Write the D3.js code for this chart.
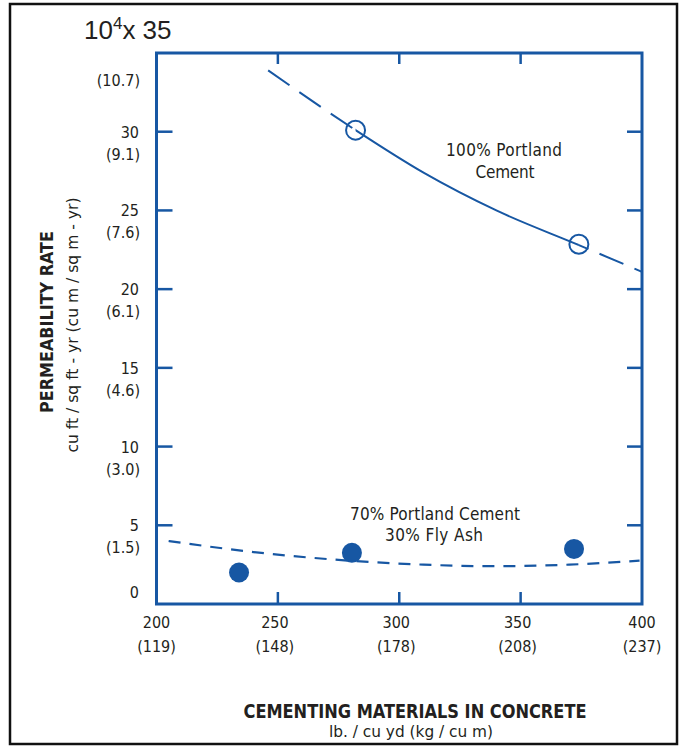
<!DOCTYPE html>
<html>
<head>
<meta charset="utf-8">
<script src="https://cdn.jsdelivr.net/npm/d3@7"></script>
<style>
  body { margin: 0; background: #fff; }
  svg { display: block; }
  text { fill: #231f20; }
</style>
</head>
<body>
<svg id="chart" width="681" height="747"></svg>
<script>
// values
const xTicks = [200, 250, 300, 350, 400];
const xTickMetric = ["(119)", "(148)", "(178)", "(208)", "(237)"];
const yTicks = [0, 5, 10, 15, 20, 25, 30];
const yTickMetric = ["", "(1.5)", "(3.0)", "(4.6)", "(6.1)", "(7.6)", "(9.1)"];

// 100% portland cement: fitted curve and measured points (open circles)
const portlandCurve = [[246, 33.9], [282, 30.1], [310, 27.4], [340, 25.0], [374, 22.8], [400, 21.1]];
const portlandPoints = [[282, 30.1], [374, 22.85]];
const portlandSolid = [282, 374]; // solid between the measured points, dashed outside

// 70% portland cement + 30% fly ash
const flyAshCurve = [[205, 4.0], [240, 3.3], [275, 2.8], [310, 2.5], [340, 2.4], [370, 2.5], [399, 2.75]];
const flyAshPoints = [[234, 2.0], [280.5, 3.25], [372, 3.5]];

const blue = "#1757a3";
const narrow = "'Liberation Sans Narrow', 'DejaVu Sans Condensed', 'Roboto', sans-serif";

const svg = d3.select("#chart");
const x = d3.scaleLinear().domain([200, 400]).range([156.5, 642]);
const y = d3.scaleLinear().domain([0, 35]).range([604, 53]);

// outer border
svg.append("rect")
    .attr("x", 10).attr("y", 4)
    .attr("width", 667).attr("height", 740)
    .attr("fill", "none")
    .attr("stroke", "#111")
    .attr("stroke-width", 2.5);

// clip paths for solid / dashed parts of the portland curve
const defs = svg.append("defs");
defs.append("clipPath").attr("id", "solidPart")
    .append("rect")
    .attr("x", x(portlandSolid[0])).attr("y", 0)
    .attr("width", x(portlandSolid[1]) - x(portlandSolid[0])).attr("height", 747);
const dashClip = defs.append("clipPath").attr("id", "dashPart");
dashClip.append("rect")
    .attr("x", 0).attr("y", 0)
    .attr("width", x(portlandSolid[0])).attr("height", 747);
dashClip.append("rect")
    .attr("x", x(portlandSolid[1])).attr("y", 0)
    .attr("width", 681 - x(portlandSolid[1])).attr("height", 747);

const line = d3.line()
    .x(d => x(d[0]))
    .y(d => y(d[1]))
    .curve(d3.curveMonotoneX);

// curves
svg.append("path")
    .datum(portlandCurve)
    .attr("d", line)
    .attr("fill", "none")
    .attr("stroke", blue)
    .attr("stroke-width", 2)
    .attr("clip-path", "url(#solidPart)");

svg.append("path")
    .datum(portlandCurve)
    .attr("d", line)
    .attr("fill", "none")
    .attr("stroke", blue)
    .attr("stroke-width", 2)
    .attr("stroke-dasharray", "26,12")
    .attr("clip-path", "url(#dashPart)");

svg.append("path")
    .datum(flyAshCurve)
    .attr("d", line)
    .attr("fill", "none")
    .attr("stroke", blue)
    .attr("stroke-width", 2.2)
    .attr("stroke-dasharray", "12,9");

// markers
svg.append("g")
    .selectAll("circle")
    .data(portlandPoints)
    .join("circle")
    .attr("cx", d => x(d[0]))
    .attr("cy", d => y(d[1]))
    .attr("r", 9.5)
    .attr("fill", "none")
    .attr("stroke", blue)
    .attr("stroke-width", 2);

svg.append("g")
    .selectAll("circle")
    .data(flyAshPoints)
    .join("circle")
    .attr("cx", d => x(d[0]))
    .attr("cy", d => y(d[1]))
    .attr("r", 10)
    .attr("fill", blue);

// frame
const frame = svg.append("g")
    .attr("stroke", blue)
    .attr("fill", "none");
frame.append("rect")
    .attr("x", x(200)).attr("y", y(35))
    .attr("width", x(400) - x(200)).attr("height", y(0) - y(35))
    .attr("stroke-width", 3);

const innerX = xTicks.slice(1, -1);
const innerY = yTicks.slice(1);

frame.selectAll("line.bt").data(innerX).join("line")
    .attr("x1", d => x(d)).attr("x2", d => x(d))
    .attr("y1", y(0)).attr("y2", y(0) - 12)
    .attr("stroke-width", 2.5);
frame.selectAll("line.tt").data(innerX).join("line")
    .attr("x1", d => x(d)).attr("x2", d => x(d))
    .attr("y1", y(35)).attr("y2", y(35) + 11)
    .attr("stroke-width", 2.5);
frame.selectAll("line.lt").data(innerY).join("line")
    .attr("x1", x(200)).attr("x2", x(200) + 16)
    .attr("y1", d => y(d)).attr("y2", d => y(d))
    .attr("stroke-width", 2.5);
frame.selectAll("line.rt").data(innerY).join("line")
    .attr("x1", x(400)).attr("x2", x(400) - 15)
    .attr("y1", d => y(d)).attr("y2", d => y(d))
    .attr("stroke-width", 2.5);

// y tick labels
const yLab = svg.append("g")
    .attr("font-family", narrow)
    .attr("font-size", 16)
    .attr("text-anchor", "end");
yLab.selectAll("text.v").data(yTicks).join("text")
    .attr("x", 139)
    .attr("y", d => y(d) + (d === 0 ? -6 : 6))
    .text(d => d);
yLab.selectAll("text.m").data(yTicks).join("text")
    .attr("x", 140)
    .attr("y", d => y(d) + 28)
    .text((d, i) => yTickMetric[i]);
yLab.append("text")
    .attr("x", 140)
    .attr("y", 86)
    .text("(10.7)");

// top-of-scale label
const scaleNote = svg.append("text")
    .attr("x", 84).attr("y", 39)
    .attr("font-family", "'Liberation Sans', Arial, sans-serif")
    .attr("font-size", 26);
scaleNote.append("tspan").text("10");
scaleNote.append("tspan").attr("font-size", 17).attr("dy", -10).text("4");
scaleNote.append("tspan").attr("dy", 10).text("x 35");

// x tick labels
const xLab = svg.append("g")
    .attr("font-family", narrow)
    .attr("font-size", 16)
    .attr("text-anchor", "middle");
xLab.selectAll("text.v").data(xTicks).join("text")
    .attr("x", d => x(d) - (d === 200 || d === 400 ? 0 : 3))
    .attr("y", 628)
    .text(d => d);
xLab.selectAll("text.m").data(xTicks).join("text")
    .attr("x", d => x(d) - (d === 200 || d === 400 ? 0 : 3))
    .attr("y", 652)
    .text((d, i) => xTickMetric[i]);

// axis titles
svg.append("text")
    .attr("x", 415).attr("y", 718)
    .attr("text-anchor", "middle")
    .attr("font-family", narrow)
    .attr("font-weight", "bold")
    .attr("font-size", 19)
    .attr("textLength", 343)
    .attr("lengthAdjust", "spacingAndGlyphs")
    .text("CEMENTING MATERIALS IN CONCRETE");
svg.append("text")
    .attr("x", 411).attr("y", 737)
    .attr("text-anchor", "middle")
    .attr("font-family", narrow)
    .attr("font-size", 16)
    .attr("textLength", 164)
    .attr("lengthAdjust", "spacingAndGlyphs")
    .text("lb. / cu yd (kg / cu m)");

svg.append("text")
    .attr("transform", "translate(53,322) rotate(-90)")
    .attr("text-anchor", "middle")
    .attr("font-family", narrow)
    .attr("font-weight", "bold")
    .attr("font-size", 18)
    .attr("textLength", 182)
    .attr("lengthAdjust", "spacingAndGlyphs")
    .text("PERMEABILITY RATE");
svg.append("text")
    .attr("transform", "translate(78,325) rotate(-90)")
    .attr("text-anchor", "middle")
    .attr("font-family", narrow)
    .attr("font-size", 16)
    .attr("textLength", 255)
    .attr("lengthAdjust", "spacingAndGlyphs")
    .text("cu ft / sq ft - yr (cu m / sq m - yr)");

// series annotations
const notes = svg.append("g")
    .attr("font-family", narrow)
    .attr("font-size", 17)
    .attr("text-anchor", "middle")
    .attr("lengthAdjust", "spacingAndGlyphs");
notes.append("text").attr("x", 504).attr("y", 156).attr("textLength", 116).text("100% Portland");
notes.append("text").attr("x", 505).attr("y", 178).attr("textLength", 59).text("Cement");
notes.append("text").attr("x", 435).attr("y", 520).attr("textLength", 170).text("70% Portland Cement");
notes.append("text").attr("x", 434).attr("y", 541).attr("textLength", 98).text("30% Fly Ash");
</script>
</body>
</html>
